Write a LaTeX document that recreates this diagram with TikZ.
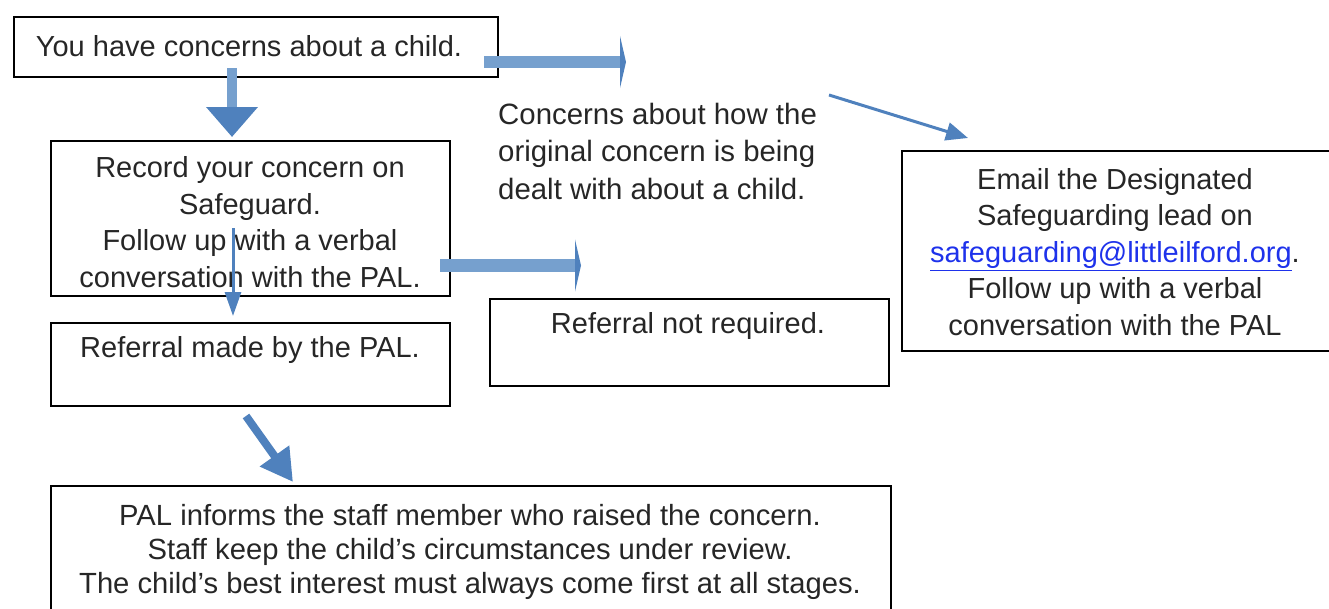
\documentclass[tikz,border=0pt]{standalone}
\usepackage{fontspec}
\setmainfont{Liberation Sans}
\usetikzlibrary{arrows.meta}
\definecolor{arr}{RGB}{79,129,189}
\definecolor{arrlt}{RGB}{118,160,206}
\definecolor{linkblue}{RGB}{30,50,235}
\begin{document}
\begin{tikzpicture}[x=1pt,y=-1pt,
  box/.style={draw=black, line width=2pt, rectangle, inner sep=0pt, anchor=north west},
  txt/.style={align=center, font=\fontsize{29}{36.5}\selectfont, inner sep=0pt, text=black!85},
  txtl/.style={align=left, font=\fontsize{29.4}{37.5}\selectfont, inner sep=0pt, text=black!85},
  txtb/.style={align=center, font=\fontsize{29.2}{34}\selectfont, inner sep=0pt, text=black!85},
  thick arrow/.style={line width=#1, arrlt},
  thin arrow/.style={line width=3pt, arr}]
\useasboundingbox (0,0) rectangle (1329,608);
\clip (0,0) rectangle (1329,608);
% boxes
\node[box, minimum width=484pt, minimum height=60pt] (b1) at (13,16) {};
\node[box, minimum width=399pt, minimum height=155pt] (b2) at (50,140) {};
\node[box, minimum width=399pt, minimum height=83pt] (b3) at (50,322) {};
\node[box, minimum width=399pt, minimum height=87pt] (b4) at (489,298) {};
\node[box, minimum width=440pt, minimum height=200pt] (b5) at (901,150) {};
\node[box, minimum width=840pt, minimum height=200pt] (b6) at (50,485) {};
% texts
\node[txt] (t1) at (249,46) {You have concerns about a child.};
\node[txt] (t2) at (250,222) {Record your concern on\\Safeguard.\\Follow up with a verbal\\conversation with the PAL.};
\node[txt] (t3) at (250,350) {Referral made by the PAL.};
\node[txt] (t4) at (688,326) {Referral not required.};
\node[txtl, anchor=west] (t5) at (498,151) {Concerns about how the\\original concern is being\\dealt with about a child.};
\node[txt] (t6) at (1115,252) {Email the Designated\\Safeguarding lead on\\{\color{linkblue}\underline{safeguarding@littleilford.org}}.\\Follow up with a verbal\\conversation with the PAL};
\node[txtb] (t7) at (470,552) {PAL informs the staff member who raised the concern.\\Staff keep the child’s circumstances under review.\\The child’s best interest must always come first at all stages.};
% arrow end points
\coordinate (a1s) at (232,68);  \coordinate (a1e) at (232,137);
\coordinate (a2s) at (484,62);  \coordinate (a2e) at (626,62);
\coordinate (a3s) at (440,265.5); \coordinate (a3e) at (581,265.5);
\coordinate (a4s) at (233,228); \coordinate (a4e) at (233,316);
\coordinate (a5s) at (246,416); \coordinate (a5e) at (293,482);
\coordinate (a6s) at (829,95);  \coordinate (a6e) at (968,138);
% arrows
\draw[thick arrow=10pt, -{Triangle[length=30pt,width=50pt,color=arr]}] (a1s) -- (a1e);
\draw[thick arrow=12pt, -{Triangle[length=6pt,width=52pt,color=arr]}] (a2s) -- (a2e);
\draw[thick arrow=13pt, -{Triangle[length=6pt,width=52pt,color=arr]}] (a3s) -- (a3e);
\draw[thin arrow, -{Triangle[length=24pt,width=16pt]}] (a4s) -- (a4e);
\draw[line width=8pt, arr, -{Triangle[length=32pt,width=34pt]}] (a5s) -- (a5e);
\draw[thin arrow, -{Triangle[length=22pt,width=18pt]}] (a6s) -- (a6e);
\end{tikzpicture}
\end{document}
